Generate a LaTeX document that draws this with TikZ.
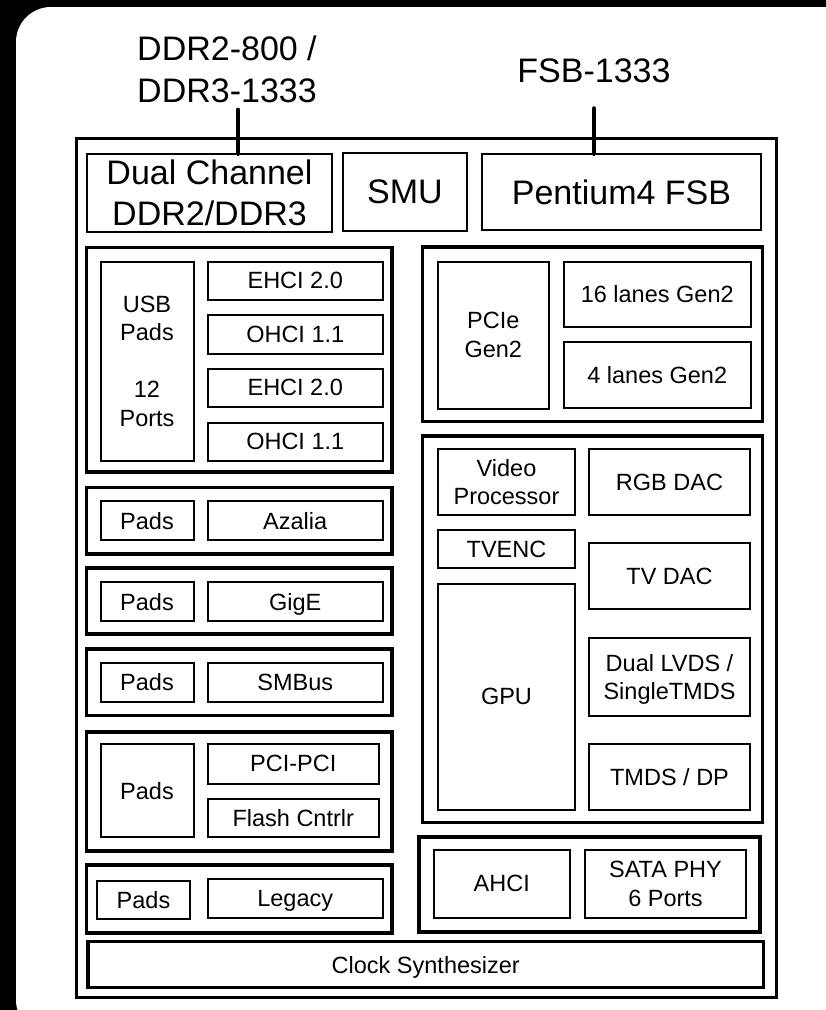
\documentclass[tikz,border=0pt]{standalone}
\usepackage{fontspec}
\setmainfont{Liberation Sans}
\tikzset{
  sz/.style 2 args={minimum width=#1pt, minimum height=#2pt},
  unit/.style={draw, line width=2pt, inner sep=0pt, outer sep=0pt, align=center,
    text depth=0pt, font=\fontsize{23.5}{28.5}\selectfont},
  bigunit/.style={unit, font=\fontsize{34}{41}\selectfont},
  grp/.style={draw, line width=3.5pt, inner sep=0pt, outer sep=0pt},
  buslbl/.style={align=center, inner sep=0pt, font=\fontsize{34}{42}\selectfont},
  bus/.style={line width=4pt, line cap=round},
}
\begin{document}
\begin{tikzpicture}[x=1pt, y=-1pt]
  \clip (0,0) rectangle (826,1010);
  \fill[black] (0,0) rectangle (826,1010);
  \fill[white, rounded corners=35pt] (16,7) rectangle (860,1035);

  % chip outline
  \node[grp, line width=3pt, sz={699.5}{859.5}] (chip) at (426.25,567.75) {};

  % memory, SMU and front side bus
  \node[bigunit, sz={245}{78}] (dual) at (209.5,193) {Dual Channel\\DDR2/DDR3};
  \node[bigunit, sz={124}{78}] (smu) at (405,192) {SMU};
  \node[bigunit, sz={279}{76}] (pent) at (621.5,192) {Pentium4 FSB};
  \node[buslbl] (ddr) at (227,69) {DDR2-800 /\\DDR3-1333};
  \node[buslbl] (fsb) at (594,71) {FSB-1333};
  \draw[bus] ([xshift=11pt,yshift=-7pt]ddr.south) -- ([xshift=11pt]ddr.south |- dual.north);
  \draw[bus] ([yshift=-25pt]fsb.south) -- (fsb.south |- pent.north);

  % USB
  \node[grp, sz={305.5}{224.5}] (usbgrp) at (239.25,359.75) {};
  \node[unit, sz={93}{199.5}] (usbpads) at (147,361.25) {USB\\Pads\\[28.5pt]12\\Ports};
  \node[unit, sz={174.5}{38.5}] (ehcia) at (295.25,280.75) {EHCI 2.0};
  \node[unit, sz={174.5}{38.5}] (ohcia) at (295.25,334.25) {OHCI 1.1};
  \node[unit, sz={174.5}{38.5}] (ehcib) at (295.25,387.75) {EHCI 2.0};
  \node[unit, sz={174.5}{38.5}] (ohcib) at (295.25,441.75) {OHCI 1.1};

  % Azalia, GigE, SMBus
  \node[grp, sz={305.5}{66.5}] (azgrp) at (239.25,520.75) {};
  \node[unit, sz={93}{39}] (azpads) at (147,520.5) {Pads};
  \node[unit, sz={174.5}{39}] (azalia) at (295.25,520.5) {Azalia};
  \node[grp, sz={305.5}{66}] (gigegrp) at (239.25,601) {};
  \node[unit, sz={93}{39}] (gigepads) at (147,601.5) {Pads};
  \node[unit, sz={174.5}{39}] (gige) at (295.25,601.5) {GigE};
  \node[grp, sz={305.5}{66.5}] (smbgrp) at (239.25,682.25) {};
  \node[unit, sz={93}{39}] (smbpads) at (147,682) {Pads};
  \node[unit, sz={174.5}{39}] (smbus) at (295.25,682) {SMBus};

  % PCI and flash
  \node[grp, sz={305.5}{119}] (pcigrp) at (239.25,791.5) {};
  \node[unit, sz={93}{93}] (pcipads) at (147,790.5) {Pads};
  \node[unit, sz={170.5}{39.5}] (pcipci) at (293.25,763.75) {PCI-PCI};
  \node[unit, sz={170.5}{38.5}] (flash) at (293.25,817.75) {Flash Cntrlr};

  % legacy
  \node[grp, sz={305.5}{68}] (leggrp) at (239.25,899) {};
  \node[unit, sz={93}{38}] (legpads) at (143.5,900) {Pads};
  \node[unit, sz={174.5}{39}] (legacy) at (295.25,898.5) {Legacy};

  % PCIe
  \node[grp, sz={340}{174.5}] (pciegrp) at (592.5,334.25) {};
  \node[unit, sz={111.5}{147}] (pcie) at (493.25,335) {PCIe\\Gen2};
  \node[unit, sz={187.5}{65.5}] (lanesa) at (657.25,294.25) {16 lanes Gen2};
  \node[unit, sz={187.5}{66}] (lanesb) at (657.25,374.5) {4 lanes Gen2};

  % graphics
  \node[grp, sz={340}{386.5}] (gfxgrp) at (592.5,629.25) {};
  \node[unit, sz={137}{66}] (vproc) at (506.5,482) {Video\\Processor};
  \node[unit, sz={161}{66}] (rgbdac) at (669.5,482) {RGB DAC};
  \node[unit, sz={137}{38}] (tvenc) at (506.5,549) {TVENC};
  \node[unit, sz={137}{226.5}] (gpu) at (506.5,696.75) {GPU};
  \node[unit, sz={161}{66}] (tvdac) at (669.5,576) {TV DAC};
  \node[unit, sz={161}{78.5}] (lvds) at (669.5,676.75) {Dual LVDS /\\SingleTMDS};
  \node[unit, sz={161}{66}] (tmds) at (669.5,777) {TMDS / DP};

  % SATA
  \node[grp, sz={341}{95}] (satagrp) at (589.5,884.5) {};
  \node[unit, sz={136.5}{67.5}] (ahci) at (501.75,883.75) {AHCI};
  \node[unit, sz={161}{67.5}] (sataphy) at (665.5,883.75) {SATA PHY\\6 Ports};

  % clock
  \node[grp, sz={675.5}{46}, text depth=0pt, font=\fontsize{23.5}{28.5}\selectfont] (clk) at (425.75,964.5) {Clock Synthesizer};
\end{tikzpicture}
\end{document}
